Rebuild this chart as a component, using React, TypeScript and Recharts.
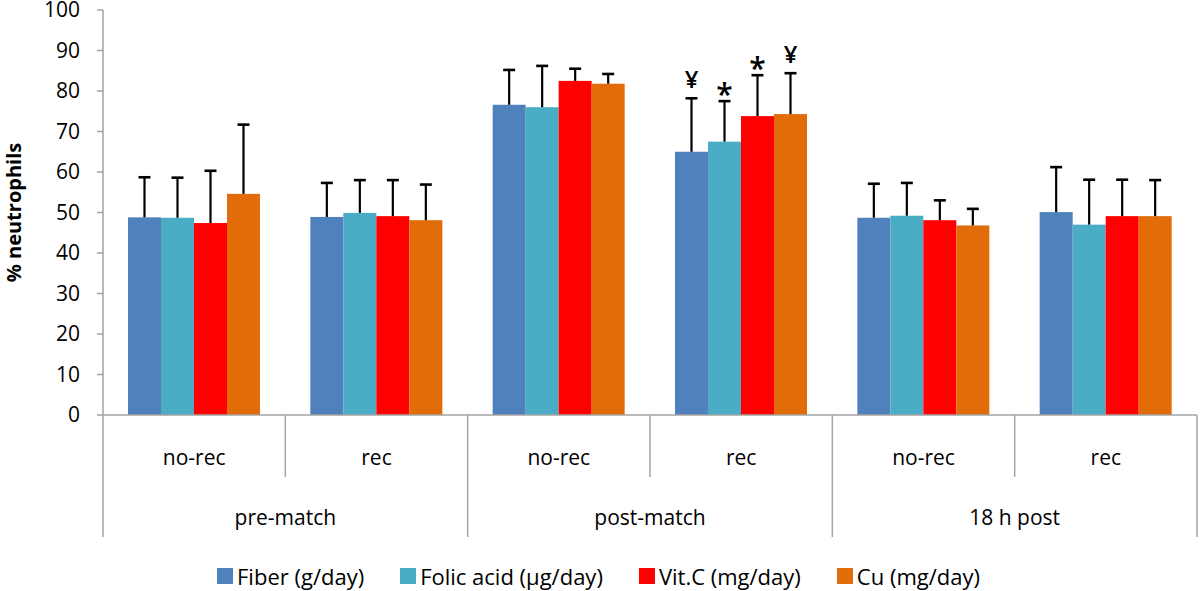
import { Bar, BarChart, Legend, XAxis, YAxis } from "recharts";

const categories = ["no-rec", "rec", "no-rec", "rec", "no-rec", "rec"];
const groups = ["pre-match", "post-match", "18 h post"];
const seriesNames = ["Fiber (g/day)", "Folic acid (µg/day)", "Vit.C (mg/day)", "Cu (mg/day)"];

const fiber = [48.8, 48.9, 76.6, 65.0, 48.7, 50.1];
const fiberErr = [9.9, 8.4, 8.6, 13.2, 8.4, 11.1];
const fiberMark = ["", "", "", "¥", "", ""];

const folic = [48.7, 49.9, 76.0, 67.5, 49.2, 47.0];
const folicErr = [9.9, 8.1, 10.2, 10.0, 8.1, 11.1];
const folicMark = ["", "", "", "*", "", ""];

const vitc = [47.4, 49.1, 82.5, 73.8, 48.1, 49.1];
const vitcErr = [12.9, 8.9, 3.0, 10.1, 4.9, 9.0];
const vitcMark = ["", "", "", "*", "", ""];

const cu = [54.6, 48.1, 81.8, 74.3, 46.8, 49.1];
const cuErr = [17.1, 8.8, 2.4, 10.1, 4.1, 8.9];
const cuMark = ["", "", "", "¥", "", ""];

const yTicks = [0, 10, 20, 30, 40, 50, 60, 70, 80, 90, 100];

const data = categories.map((sub, i) => ({
  sub,
  fiber: fiber[i],
  fiberErr: fiberErr[i],
  fiberMark: fiberMark[i],
  folic: folic[i],
  folicErr: folicErr[i],
  folicMark: folicMark[i],
  vitc: vitc[i],
  vitcErr: vitcErr[i],
  vitcMark: vitcMark[i],
  cu: cu[i],
  cuErr: cuErr[i],
  cuMark: cuMark[i],
}));

const GRAY = "#a3a3a3";
const FONT = "'Open Sans', sans-serif";

// bar plus one-sided (upper) error bar, scaled from the bar's own geometry
function barWithErr(key: string) {
  return (p: any) => {
    const { x, y, width, height, fill, payload } = p;
    const val = payload[key];
    const err = payload[key + "Err"];
    const mark = payload[key + "Mark"];
    const pxPerUnit = val ? height / val : 0;
    const top = y - err * pxPerUnit;
    const cx = x + width / 2;
    return (
      <g>
        <rect x={x} y={y} width={width} height={height} fill={fill} />
        <line x1={cx} y1={y} x2={cx} y2={top} stroke="#000" strokeWidth={2.2} />
        <line x1={cx - 6} y1={top} x2={cx + 6} y2={top} stroke="#000" strokeWidth={2.6} />
        {mark ? (
          <text
            x={cx}
            y={mark === "*" ? top + 4 : top - 10}
            textAnchor="middle"
            fontSize={mark === "*" ? 30 : 24}
            fontWeight={600}
            fill="#000"
          >
            {mark}
          </text>
        ) : null}
      </g>
    );
  };
}

function CatTick(props: any) {
  const { x, y, payload } = props;
  const i = payload.index;
  const off = payload.offset ?? 91;
  const odd = i % 2 === 1;
  return (
    <g>
      <text x={x} y={y + 42} textAnchor="middle" dominantBaseline="central" fontSize={21} fill="#000">
        {payload.value}
      </text>
      <line x1={x + off} y1={y} x2={x + off} y2={y + (odd ? 122 : 62)} stroke={GRAY} strokeWidth={1.5} />
      {i === 0 ? (
        <line x1={x - off} y1={y} x2={x - off} y2={y + 122} stroke={GRAY} strokeWidth={1.5} />
      ) : null}
      {!odd ? (
        <text x={x + off} y={y + 102} textAnchor="middle" dominantBaseline="central" fontSize={21} fill="#000">
          {groups[Math.floor(i / 2)]}
        </text>
      ) : null}
    </g>
  );
}

function LegendBox({ payload }: any) {
  const items = [...(payload || [])].sort(
    (a: any, b: any) => seriesNames.indexOf(a.value) - seriesNames.indexOf(b.value)
  );
  return (
    <div
      style={{
        display: "flex",
        justifyContent: "center",
        alignItems: "center",
        gap: 36,
        height: 30,
        fontSize: 22,
        fontFamily: FONT,
        color: "#000",
      }}
    >
      {items.map((e: any) => (
        <div key={e.value} style={{ display: "flex", alignItems: "center", gap: 4 }}>
          <span style={{ width: 16, height: 16, background: e.color, display: "inline-block" }} />
          <span>{e.value}</span>
        </div>
      ))}
    </div>
  );
}

export default function App() {
  return (
    <div style={{ position: "absolute", left: 0, top: 0, fontFamily: FONT, background: "#fff" }}>
      <BarChart
        width={1200}
        height={591}
        data={data}
        margin={{ top: 10, right: 3, bottom: 24, left: 0 }}
        barCategoryGap={25}
        barGap={0}
      >
        <XAxis
          dataKey="sub"
          interval={0}
          height={122}
          tickLine={false}
          tickSize={0}
          tickMargin={0}
          axisLine={{ stroke: GRAY, strokeWidth: 1.5 }}
          tick={<CatTick />}
        />
        <YAxis
          domain={[0, 100]}
          ticks={yTicks}
          interval={0}
          width={103}
          tickSize={6}
          tickMargin={17}
          axisLine={{ stroke: GRAY, strokeWidth: 1.5 }}
          tickLine={{ stroke: GRAY, strokeWidth: 1.5 }}
          tick={{ fill: "#000", fontSize: 21 }}
          label={{
            content: ({ viewBox }: any) => {
              const cy = viewBox.y + viewBox.height / 2;
              return (
                <text
                  x={13}
                  y={cy}
                  transform={`rotate(-90 13 ${cy})`}
                  textAnchor="middle"
                  dominantBaseline="central"
                  fontSize={20}
                  fontWeight={700}
                  fill="#000"
                >
                  % neutrophils
                </text>
              );
            },
          }}
        />
        <Legend
          verticalAlign="bottom"
          content={<LegendBox />}
          wrapperStyle={{ bottom: 0, height: 30 }}
        />
        <Bar dataKey="fiber" name={seriesNames[0]} fill="#4f81bd" shape={barWithErr("fiber")} isAnimationActive={false} />
        <Bar dataKey="folic" name={seriesNames[1]} fill="#4bacc6" shape={barWithErr("folic")} isAnimationActive={false} />
        <Bar dataKey="vitc" name={seriesNames[2]} fill="#ff0000" shape={barWithErr("vitc")} isAnimationActive={false} />
        <Bar dataKey="cu" name={seriesNames[3]} fill="#e36c0a" shape={barWithErr("cu")} isAnimationActive={false} />
      </BarChart>
    </div>
  );
}
